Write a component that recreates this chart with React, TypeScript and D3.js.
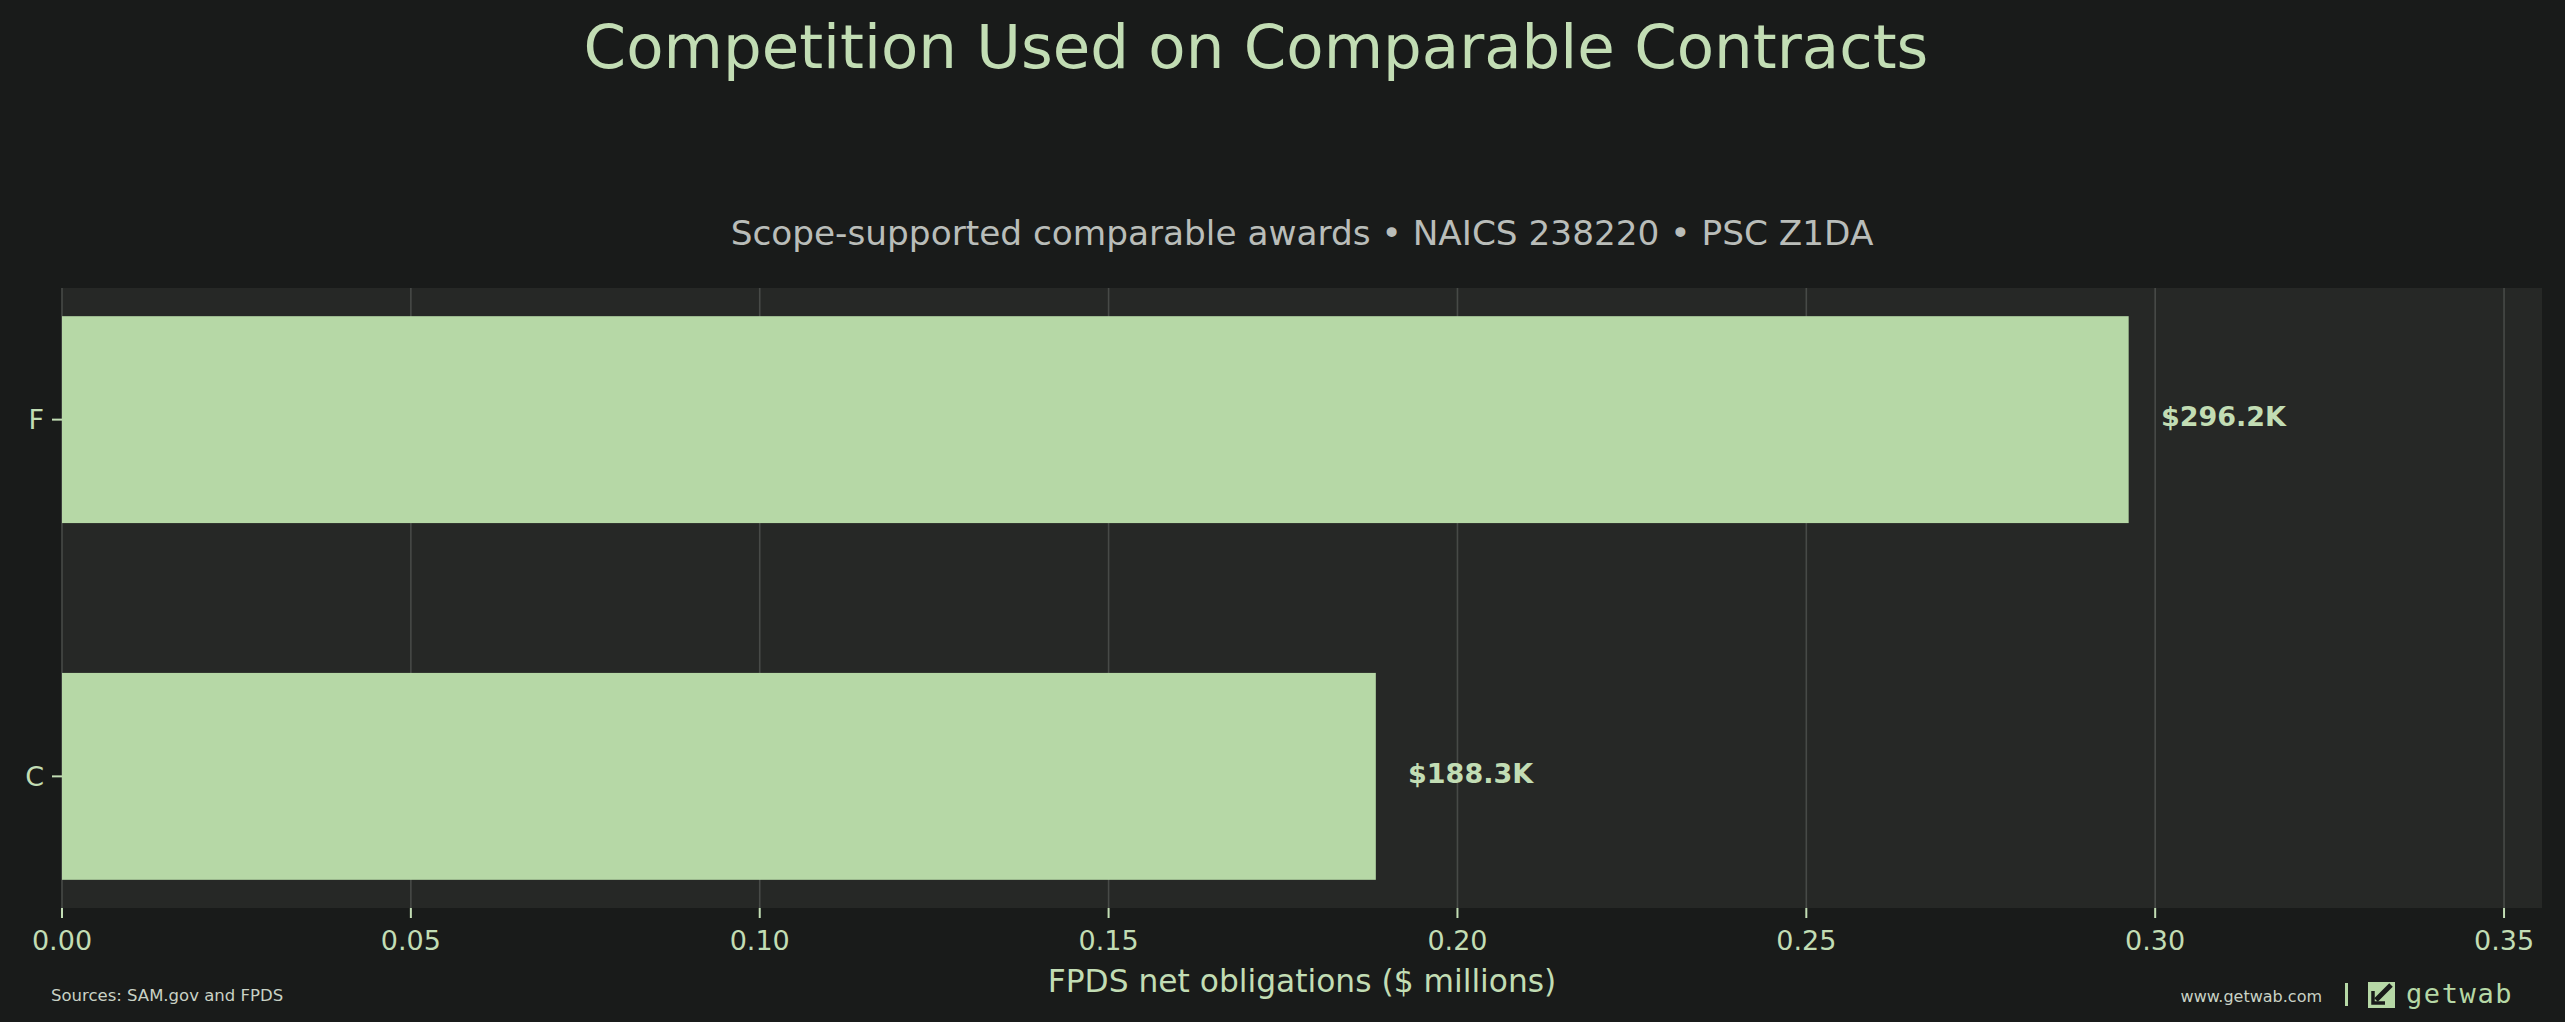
import { useEffect } from 'react';
import * as d3 from 'd3';

// competition code categories, top to bottom
const categories = ['F', 'C'];
// FPDS net obligations, $ millions
const obligations = [0.2962, 0.1883];
const xTicks = [0, 0.05, 0.1, 0.15, 0.2, 0.25, 0.3, 0.35];

const W = 2565;
const H = 1022;
const plot = { left: 62, right: 2542, top: 288, bottom: 908 };

const BG = '#191b1a';
const PANEL = '#262826';
const GRID = '#474a47';
const BAR = '#b6d8a6';
const GREEN_TEXT = '#c2ddb4';
const GREY_TEXT = '#b9bdb9';
const FONT = '"DejaVu Sans", Verdana, sans-serif';

const barHeight = 0.58;

export default function App() {
    useEffect(() => {
        document.body.style.margin = '0';
        document.body.style.background = BG;
    }, []);

    const xMax = d3.max(obligations) * 1.2;
    const x = d3.scaleLinear().domain([0, xMax]).range([plot.left, plot.right]);

    const n = categories.length;
    const pad = 0.05 * (n - 1 + barHeight);
    const y = d3
        .scaleLinear()
        .domain([-barHeight / 2 - pad, n - 1 + barHeight / 2 + pad])
        .range([plot.bottom, plot.top]);
    const pos = (i) => n - 1 - i;

    const fmtTick = d3.format('.2f');
    const fmtValue = (v) => `$${d3.format('.1f')(v * 1000)}K`;
    const labelOffset = xMax * 0.013;

    return (
        <svg width={W} height={H} style={{ display: 'block', background: BG }} fontFamily={FONT}>
            <rect x={0} y={0} width={W} height={H} fill={BG} />

            <text x={1256} y={68} textAnchor="middle" fontSize={61} fill={GREEN_TEXT}>
                Competition Used on Comparable Contracts
            </text>
            <text x={(plot.left + plot.right) / 2} y={245} textAnchor="middle" fontSize={34.3} fill={GREY_TEXT}>
                Scope-supported comparable awards • NAICS 238220 • PSC Z1DA
            </text>

            {/* panel */}
            <rect
                x={plot.left}
                y={plot.top}
                width={plot.right - plot.left}
                height={plot.bottom - plot.top}
                fill={PANEL}
            />

            {/* grid */}
            {xTicks.map((t) => (
                <line
                    key={`g${t}`}
                    x1={x(t)}
                    x2={x(t)}
                    y1={plot.top}
                    y2={plot.bottom}
                    stroke={GRID}
                    strokeWidth={1.6}
                />
            ))}

            {/* bars */}
            {obligations.map((v, i) => (
                <rect
                    key={categories[i]}
                    x={x(0)}
                    y={y(pos(i) + barHeight / 2)}
                    width={x(v) - x(0)}
                    height={y(pos(i) - barHeight / 2) - y(pos(i) + barHeight / 2)}
                    fill={BAR}
                />
            ))}

            {/* value labels */}
            {obligations.map((v, i) => (
                <text
                    key={`v${i}`}
                    x={x(v + labelOffset)}
                    y={y(pos(i)) - 3}
                    dominantBaseline="central"
                    fontSize={27}
                    fontWeight="bold"
                    fill={GREEN_TEXT}
                >
                    {fmtValue(v)}
                </text>
            ))}

            {/* x axis */}
            {xTicks.map((t) => (
                <g key={`t${t}`}>
                    <line x1={x(t)} x2={x(t)} y1={plot.bottom} y2={plot.bottom + 10} stroke={GREEN_TEXT} strokeWidth={2} />
                    <text x={x(t)} y={950} textAnchor="middle" fontSize={27} fill={GREEN_TEXT}>
                        {fmtTick(t)}
                    </text>
                </g>
            ))}
            <text x={(plot.left + plot.right) / 2} y={992} textAnchor="middle" fontSize={31.3} fill={GREEN_TEXT}>
                FPDS net obligations ($ millions)
            </text>

            {/* y axis */}
            {categories.map((c, i) => (
                <g key={`y${c}`}>
                    <line
                        x1={plot.left - 10}
                        x2={plot.left}
                        y1={y(pos(i))}
                        y2={y(pos(i))}
                        stroke={GREEN_TEXT}
                        strokeWidth={2}
                    />
                    <text
                        x={plot.left - 18}
                        y={y(pos(i))}
                        textAnchor="end"
                        dominantBaseline="central"
                        fontSize={27}
                        fill={GREEN_TEXT}
                    >
                        {c}
                    </text>
                </g>
            ))}

            {/* footer */}
            <text x={51} y={1001} fontSize={16.5} fill="#c9d2c5">
                Sources: SAM.gov and FPDS
            </text>
            <text x={2322} y={1002} textAnchor="end" fontSize={16} fill="#c9d2c5">
                www.getwab.com
            </text>
            <rect x={2345} y={983} width={3} height={23} fill={BAR} />
            <g transform="translate(2368,982)">
                <rect width={27} height={26} fill={BAR} />
                <path d="M23 3 L8 18" stroke={BG} strokeWidth={5} />
                <path d="M5 9 L5 21 L17 21" fill="none" stroke={BG} strokeWidth={3.5} />
            </g>
            <text x={2406} y={1003} fontSize={27} letterSpacing={1.6} fontFamily='"DejaVu Sans Mono", monospace' fill={BAR}>
                getwab
            </text>
        </svg>
    );
}
